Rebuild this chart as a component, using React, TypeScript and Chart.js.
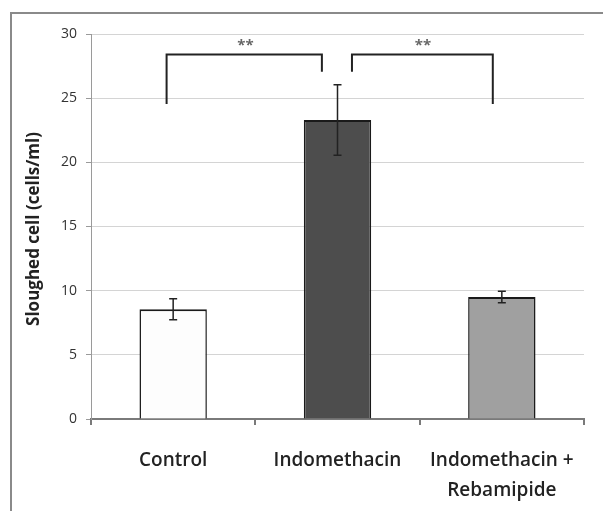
import React, { useEffect, useRef } from "react";
import { Chart, registerables } from "chart.js";

Chart.register(...registerables);

const categories: (string | string[])[] = ["Control", "Indomethacin", ["Indomethacin +", "Rebamipide"]];
const means = [8.55, 23.3, 9.5];
const errors = [0.82, 2.75, 0.45];
const barColors = ["#fdfdfd", "#4d4d4d", "#a0a0a0"];
const yTicks = [0, 5, 10, 15, 20, 25, 30];
const yTitle = "Sloughed cell (cells/ml)";
// brackets: [x left leg, x right leg, y top, y left leg bottom, y right leg bottom]
const bracketLeft = [-0.04, 0.905, 28.4, 24.55, 27.05];
const bracketRight = [1.088, 1.945, 28.4, 27.05, 24.55];
const starLabels = ["**", "**"];
const starX = [0.44, 1.52];
const starY = 29.35;

const overlayPlugin = {
  id: "overlay",
  afterDatasetsDraw(chart: any) {
    const ctx = chart.ctx;
    const x = chart.scales.x;
    const y = chart.scales.y;
    ctx.save();
    ctx.strokeStyle = "#222";
    ctx.lineWidth = 1.5;
    means.forEach((m, i) => {
      const px = x.getPixelForValue(i);
      const top = y.getPixelForValue(m + errors[i]);
      const bot = y.getPixelForValue(m - errors[i]);
      ctx.beginPath();
      ctx.moveTo(px, top);
      ctx.lineTo(px, bot);
      ctx.moveTo(px - 4, top);
      ctx.lineTo(px + 4, top);
      ctx.moveTo(px - 4, bot);
      ctx.lineTo(px + 4, bot);
      ctx.stroke();
    });
    [bracketLeft, bracketRight].forEach((b) => {
      const xl = x.getPixelForValue(b[0]);
      const xr = x.getPixelForValue(b[1]);
      const yt = y.getPixelForValue(b[2]);
      const yl = y.getPixelForValue(b[3]);
      const yr = y.getPixelForValue(b[4]);
      ctx.strokeStyle = "#222";
      ctx.lineWidth = 2;
      ctx.beginPath();
      ctx.moveTo(xl, yl);
      ctx.lineTo(xl, yt);
      ctx.lineTo(xr, yt);
      ctx.lineTo(xr, yr);
      ctx.stroke();
    });
    ctx.fillStyle = "#666";
    ctx.font = "bold 15px 'Open Sans'";
    ctx.textAlign = "center";
    ctx.textBaseline = "middle";
    starLabels.forEach((s, i) => {
      ctx.fillText(s, x.getPixelForValue(starX[i]), y.getPixelForValue(starY) + 3);
    });
    ctx.restore();
  },
  afterDraw(chart: any) {
    const ctx = chart.ctx;
    const y = chart.scales.y;
    ctx.save();
    ctx.strokeStyle = "#8a8a8a";
    ctx.lineWidth = 2;
    ctx.beginPath();
    ctx.moveTo(11, 520);
    ctx.lineTo(11, 13);
    ctx.lineTo(610, 13);
    ctx.stroke();
    ctx.translate(34, 229);
    ctx.rotate(-Math.PI / 2);
    ctx.fillStyle = "#222";
    ctx.font = "bold 17px 'Open Sans'";
    ctx.textAlign = "center";
    ctx.textBaseline = "middle";
    ctx.fillText(yTitle, 0, 0);
    ctx.restore();
  },
};

export default function App() {
  const ref = useRef<HTMLCanvasElement>(null);
  useEffect(() => {
    document.body.style.margin = "0";
    const chart = new Chart(ref.current!, {
      type: "bar",
      data: {
        labels: categories,
        datasets: [
          {
            data: means,
            backgroundColor: barColors,
            borderColor: "#1a1a1a",
            borderWidth: { top: 2, left: 1.5, right: 1.5, bottom: 0 },
            borderSkipped: false,
            barPercentage: 0.41,
            categoryPercentage: 1,
          },
        ],
      },
      options: {
        responsive: false,
        animation: false,
        layout: { padding: { left: 0, right: 19, top: 34, bottom: 0 } },
        plugins: { legend: { display: false }, tooltip: { enabled: false } },
        scales: {
          x: {
            afterFit: (s: any) => {
              s.height = 92;
            },
            grid: {
              drawOnChartArea: false,
              drawTicks: true,
              tickLength: 6,
              offset: true,
              color: "#7a7a7a",
              lineWidth: 2,
            },
            border: { color: "#7a7a7a", width: 2 },
            ticks: {
              color: "#222",
              padding: 21,
              font: { family: "'Open Sans'", size: 19, weight: "600", lineHeight: 1.55 },
              maxRotation: 0,
              autoSkip: false,
            },
          },
          y: {
            min: 0,
            max: 30,
            afterFit: (s: any) => {
              s.width = 91;
            },
            afterBuildTicks: (s: any) => {
              s.ticks = yTicks.map((v) => ({ value: v }));
            },
            grid: {
              color: "#d4d4d4",
              lineWidth: 1,
              drawTicks: true,
              tickLength: 5,
              tickColor: "#9a9a9a",
            },
            border: { color: "#9a9a9a", width: 1 },
            ticks: {
              color: "#333",
              padding: 9,
              font: { family: "'Open Sans'", size: 14 },
            },
          },
        },
      },
      plugins: [overlayPlugin],
    });
    return () => chart.destroy();
  }, []);
  return (
    <div style={{ position: "absolute", left: 0, top: 0, width: 603, height: 511, background: "#fff" }}>
      <canvas ref={ref} width={603} height={511} />
    </div>
  );
}
